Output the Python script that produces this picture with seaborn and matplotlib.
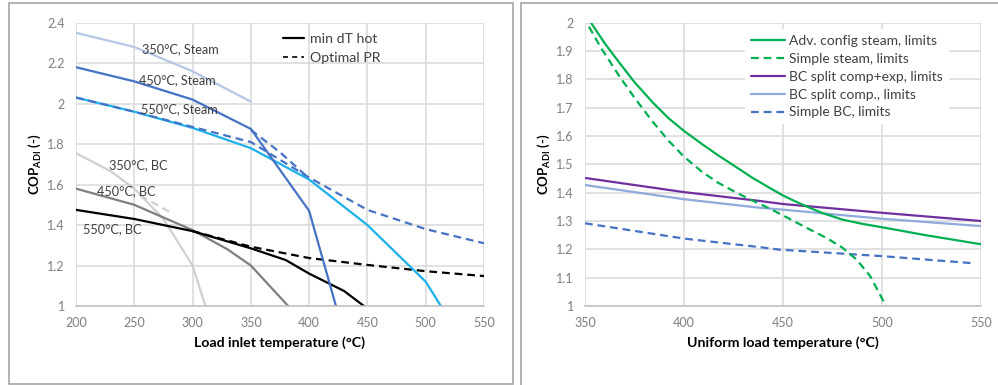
import matplotlib
matplotlib.use("Agg")
import matplotlib.pyplot as plt
import seaborn as sns
from matplotlib.lines import Line2D
from matplotlib.patches import Rectangle

# ---------------- data: left panel ----------------
steam350_x = [200, 250, 300, 350]
steam350_y = [2.35, 2.28, 2.16, 2.01]
steam450_x = [200, 250, 300, 350, 400, 423]
steam450_y = [2.18, 2.11, 2.02, 1.875, 1.47, 1.0]
steam450_opt_x = [350, 375, 400]
steam450_opt_y = [1.87, 1.76, 1.63]
steam550_x = [200, 250, 300, 350, 400, 450, 500, 513]
steam550_y = [2.03, 1.96, 1.88, 1.78, 1.625, 1.40, 1.12, 1.0]
steam550_opt_x = [200, 250, 300, 350, 400, 450, 500, 550]
steam550_opt_y = [2.03, 1.96, 1.885, 1.81, 1.635, 1.475, 1.38, 1.31]
bc350_x = [200, 230, 250, 275, 300, 311]
bc350_y = [1.755, 1.665, 1.58, 1.43, 1.20, 1.0]
bc350_opt_x = [255, 268, 280]
bc350_opt_y = [1.545, 1.505, 1.465]
bc450_x = [200, 250, 300, 330, 350, 382]
bc450_y = [1.58, 1.50, 1.375, 1.28, 1.20, 1.0]
bc550_x = [200, 250, 300, 350, 380, 400, 430, 447]
bc550_y = [1.475, 1.43, 1.37, 1.285, 1.227, 1.16, 1.074, 1.0]
bc550_opt_x = [300, 350, 400, 450, 500, 550]
bc550_opt_y = [1.37, 1.293, 1.237, 1.203, 1.172, 1.148]

left_labels = ["350°C, Steam", "450°C, Steam", "550°C, Steam",
               "350°C, BC", "450°C, BC", "550°C, BC"]
left_label_x = [257, 254, 256, 228, 218, 206]
left_label_y = [2.27, 2.117, 1.973, 1.697, 1.57, 1.379]
left_legend = ["min dT hot", "Optimal PR"]

# ---------------- data: right panel ----------------
adv_steam_x = [353, 360, 367, 375, 384, 392, 400, 409, 417, 426, 434, 443,
               450, 456, 463, 470, 480, 490, 500, 522, 550]
adv_steam_y = [2.0, 1.927, 1.862, 1.79, 1.72, 1.664, 1.618, 1.572, 1.533,
               1.492, 1.455, 1.418, 1.39, 1.37, 1.348, 1.328, 1.305, 1.29,
               1.278, 1.25, 1.218]
simple_steam_x = [352, 358, 367, 375, 384, 392, 400, 409, 417, 426, 434, 443,
                  451, 463, 472, 480, 487, 494, 502]
simple_steam_y = [1.986, 1.912, 1.815, 1.735, 1.652, 1.585, 1.527, 1.474, 1.436,
                  1.402, 1.374, 1.345, 1.316, 1.272, 1.24, 1.206, 1.165, 1.106, 1.0]
bc_split_ce_x = [350, 400, 438, 450, 500, 550]
bc_split_ce_y = [1.452, 1.402, 1.371, 1.36, 1.329, 1.30]
bc_split_c_x = [350, 400, 438, 450, 500, 550]
bc_split_c_y = [1.427, 1.377, 1.347, 1.34, 1.308, 1.282]
simple_bc_x = [350, 400, 438, 448, 500, 546]
simple_bc_y = [1.292, 1.238, 1.208, 1.199, 1.176, 1.151]

right_legend = ["Adv. config steam, limits", "Simple steam, limits",
                "BC split comp+exp, limits", "BC split comp., limits",
                "Simple BC, limits"]

# ---------------- style ----------------
sns.set_theme(style="whitegrid")
FONT = "Lato"
plt.rcParams["font.family"] = [FONT, "DejaVu Sans"]
plt.rcParams["mathtext.fontset"] = "custom"
plt.rcParams["mathtext.rm"] = FONT
plt.rcParams["mathtext.bf"] = FONT + ":bold"

GRID = "#d9d9d9"
TICK = "#7f7f7f"
FRAME = "#a6a6a6"

fig = plt.figure(figsize=(9.98, 3.85), dpi=100)
fig.patch.set_facecolor("white")

axL = fig.add_axes([76 / 998, (385 - 306) / 385, 408 / 998, 283.3 / 385])
axR = fig.add_axes([585 / 998, (385 - 306) / 385, 396 / 998, 283.3 / 385])

LW = 1.6
DASH = (0, (3.5, 2.2))
c350s, c450s, c550s = "#b4c7e7", "#4472c4", "#1cb0ec"
c350b, c450b, c550b = "#d0d0d0", "#7f7f7f", "#000000"

def line(ax, x, y, color, dashed=False, lw=LW, z=2):
    sns.lineplot(x=x, y=y, ax=ax, color=color, linewidth=lw, sort=False,
                 linestyle=DASH if dashed else "-", zorder=z)

# left panel lines
line(axL, bc350_x, bc350_y, c350b)
line(axL, bc350_opt_x, bc350_opt_y, c350b, dashed=True)
line(axL, bc450_x, bc450_y, c450b)
line(axL, bc550_opt_x, bc550_opt_y, c550b, dashed=True)
line(axL, bc550_x, bc550_y, c550b)
line(axL, steam350_x, steam350_y, c350s)
line(axL, steam550_x, steam550_y, c550s)
line(axL, steam550_opt_x, steam550_opt_y, c450s, dashed=True)
line(axL, steam450_opt_x, steam450_opt_y, c450s, dashed=True)
line(axL, steam450_x, steam450_y, c450s)

for t, x, y in zip(left_labels, left_label_x, left_label_y):
    axL.text(x, y, t, fontsize=9.2, color="#404040", ha="left", va="center", zorder=5)

hL = [Line2D([], [], color="black", lw=LW),
      Line2D([], [], color="black", lw=1.2, linestyle=(0, (3, 2.5)))]
axL.legend(hL, left_legend, loc="upper left", bbox_to_anchor=(0.507, 0.963),
           frameon=False, fontsize=10.2, handlelength=1.5, handletextpad=0.45,
           labelspacing=0.5, borderpad=0, borderaxespad=0,
           labelcolor="#404040")

axL.set_xlim(200, 550)
axL.set_ylim(1, 2.4)
axL.set_xticks([200, 250, 300, 350, 400, 450, 500, 550])
axL.set_yticks([1, 1.2, 1.4, 1.6, 1.8, 2, 2.2, 2.4])
axL.set_yticklabels(["1", "1.2", "1.4", "1.6", "1.8", "2", "2.2", "2.4"])
axL.set_xlabel("Load inlet temperature (°C)", fontsize=10.2, fontweight="bold",
               color="black", labelpad=5)

# right panel lines
cg, cp, cl, cb = "#00b050", "#7030a0", "#8faadc", "#4472c4"
line(axR, simple_bc_x, simple_bc_y, cb, dashed=True)
line(axR, bc_split_c_x, bc_split_c_y, cl)
line(axR, bc_split_ce_x, bc_split_ce_y, cp)
line(axR, simple_steam_x, simple_steam_y, cg, dashed=True)
line(axR, adv_steam_x, adv_steam_y, cg)

hR = [Line2D([], [], color=cg, lw=LW),
      Line2D([], [], color=cg, lw=LW, linestyle=DASH),
      Line2D([], [], color=cp, lw=LW),
      Line2D([], [], color=cl, lw=LW),
      Line2D([], [], color=cb, lw=LW, linestyle=DASH)]
legR = axR.legend(hR, right_legend, loc="upper left", bbox_to_anchor=(0.404, 0.976),
                  frameon=True, fontsize=10, handlelength=2.5, handletextpad=0.3,
                  labelspacing=0.42, borderpad=0.4, borderaxespad=0,
                  fancybox=False, labelcolor="#404040")
legR.get_frame().set_facecolor("white")
legR.get_frame().set_edgecolor("none")
legR.get_frame().set_alpha(1)

axR.set_xlim(350, 550)
axR.set_ylim(1, 2)
axR.set_xticks([350, 400, 450, 500, 550])
axR.set_yticks([1, 1.1, 1.2, 1.3, 1.4, 1.5, 1.6, 1.7, 1.8, 1.9, 2])
axR.set_yticklabels(["1", "1.1", "1.2", "1.3", "1.4", "1.5", "1.6", "1.7", "1.8", "1.9", "2"])
axR.set_xlabel("Uniform load temperature (°C)", fontsize=10.2, fontweight="bold",
               color="black", labelpad=5)

for ax in (axL, axR):
    ax.set_facecolor("white")
    ax.grid(True, color=GRID, linewidth=1.1)
    ax.set_axisbelow(True)
    for s in ("top", "right", "left"):
        ax.spines[s].set_visible(False)
    ax.spines["bottom"].set_visible(True)
    ax.spines["bottom"].set_color("#bfbfbf")
    ax.spines["bottom"].set_linewidth(1.1)
    ax.tick_params(axis="both", length=0, labelsize=9, labelcolor=TICK)
    ax.tick_params(axis="y", pad=8)
    ax.tick_params(axis="x", pad=8)
    ax.set_ylabel(r"COP$_{\mathbf{ADI}}$ (-)", fontsize=9.5, fontweight="bold",
                  color="black", labelpad=3)

# panel frames
fig.add_artist(Rectangle((9 / 998, 1 / 385), 504 / 998, 381 / 385,
                         transform=fig.transFigure, fill=False,
                         edgecolor=FRAME, linewidth=1.2))
fig.add_artist(Line2D([520.5 / 998, 520.5 / 998], [0, (385 - 3) / 385],
                      transform=fig.transFigure, color=FRAME, linewidth=1.2))
fig.add_artist(Line2D([520.5 / 998, 1.0], [(385 - 3) / 385, (385 - 3) / 385],
                      transform=fig.transFigure, color=FRAME, linewidth=1.2))

fig.savefig("out.png", dpi=100, facecolor="white")
